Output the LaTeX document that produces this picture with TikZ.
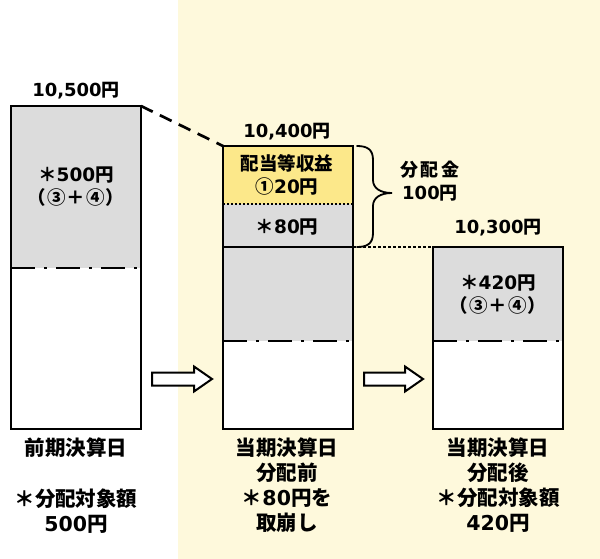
\documentclass[tikz,border=0pt]{standalone}
\usepackage{fontspec}
\setmainfont{Noto Sans CJK JP}
\newfontfamily\jpwider[LetterSpace=12]{Noto Sans CJK JP}
\newfontfamily\dg{DejaVu Sans}
\newfontfamily\jpsp[LetterSpace=5]{Noto Sans CJK JP}
\usetikzlibrary{calc}
\definecolor{panelyellow}{HTML}{FEF9DC}
\definecolor{boxgray}{HTML}{DCDCDC}
\definecolor{boxyellow}{HTML}{FCE88A}
\tikzset{
  frame/.style={draw=black, line width=2.7pt},
  dashdot/.style={line width=2.6pt, dash pattern=on 24pt off 9pt on 3pt off 9pt},
  dotline/.style={line width=2pt, dash pattern=on 2pt off 2pt},
  valtext/.style={font=\bfseries\fontsize{18}{20}\selectfont, inner sep=0pt},
  boxtext/.style={font=\bfseries\fontsize{18.5}{23}\selectfont, align=center, inner sep=0pt},
  bractext/.style={font=\bfseries\fontsize{18}{23}\selectfont, align=center, inner sep=0pt},
  labtext/.style={font=\bfseries\fontsize{20.5}{25}\selectfont, align=center, inner sep=0pt},
  bigarrow/.style={draw=black, line width=2pt, fill=white, line join=miter}
}
\begin{document}
\begin{tikzpicture}[x=1pt,y=-1pt]
\useasboundingbox (0,0) rectangle (600,559);
\fill[white] (0,0) rectangle (600,559);
\fill[panelyellow] (178,0) rectangle (600,559);

% ---- box 1
\coordinate (b1tl) at (11,106);
\coordinate (b1tr) at (141,106);
\coordinate (b1ml) at (11,268);
\coordinate (b1mr) at (141,268);
\coordinate (b1bl) at (11,429);
\coordinate (b1br) at (141,429);
\fill[boxgray] (b1tl) rectangle (b1mr);
\fill[white] (b1ml) rectangle (b1br);
\draw[dashdot] (b1ml) -- (b1mr);
\draw[frame] (b1tl) rectangle (b1br);

% ---- box 2
\coordinate (b2tl) at (223,146);
\coordinate (b2tr) at (353,146);
\coordinate (b2yl) at (223,204);
\coordinate (b2yr) at (353,204);
\coordinate (b2sl) at (223,247);
\coordinate (b2sr) at (353,247);
\coordinate (b2ml) at (223,341);
\coordinate (b2mr) at (353,341);
\coordinate (b2bl) at (223,429);
\coordinate (b2br) at (353,429);
\fill[boxyellow] (b2tl) rectangle (b2yr);
\fill[boxgray] (b2yl) rectangle (b2mr);
\fill[white] (b2ml) rectangle (b2br);
\draw[dotline] (b2yl) -- (b2yr);
\draw[line width=2.7pt] (b2sl) -- (b2sr);
\draw[dashdot] (b2ml) -- (b2mr);
\draw[frame] (b2tl) rectangle (b2br);

% ---- box 3
\coordinate (b3tl) at (433,247);
\coordinate (b3ml) at (433,341);
\coordinate (b3mr) at (563,341);
\coordinate (b3br) at (563,429);
\fill[boxgray] (b3tl) rectangle (b3mr);
\fill[white] (b3ml) rectangle (b3br);
\draw[dashdot] (b3ml) -- (b3mr);
\draw[frame] (b3tl) rectangle (b3br);

% ---- connectors
\draw[line width=2.7pt, dash pattern=on 13pt off 8pt] (b1tr) -- (b2tl);
\draw[line width=2.5pt, dash pattern=on 2.5pt off 2.5pt] (b2sr) -- (b3tl);

% ---- brace
\draw[line width=1.8pt, line cap=round]
  (357,146) .. controls (368,146) and (373,150) .. (373,160)
  -- (373,180) .. controls (373,188) and (380,193) .. (392,193)
  .. controls (380,193) and (373,198) .. (373,206)
  -- (373,233) .. controls (373,243) and (368,247) .. (357,247);

% ---- block arrows
\draw[bigarrow] (152,372.5) -- (194,372.5) -- (194,366.5) -- (212,379) -- (194,391.5) -- (194,385.5) -- (152,385.5) -- cycle;
\draw[bigarrow] (364,372.5) -- (405,372.5) -- (405,366.5) -- (423,379) -- (405,391.5) -- (405,385.5) -- (364,385.5) -- cycle;

% ---- texts
\node[valtext] (v1) at (76,91) {{\dg 10,500}円};
\node[valtext] (v2) at (287,132) {{\dg 10,400}円};
\node[valtext] (v3) at (498,228) {{\dg 10,300}円};

\node[boxtext] (t1) at (76,187) {＊{\dg 500}円\\{\jpsp （③＋④）}};
\node[boxtext] (t2) at (287,175) {配当等収益\\①{\dg 20}円};
\node[boxtext] (t3) at (287,227) {＊{\dg 80}円};
\node[boxtext] (t4) at (498,295) {＊{\dg 420}円\\{\jpsp （③＋④）}};

\node[bractext] (bt) at (430,181) {{\jpwider 分配金}\\{\dg 100}円};

\node[labtext] (l1a) at (76,448) {前期決算日};
\node[labtext] (l1b) at (76,511) {＊分配対象額\\{\dg 500}円};
\node[labtext] (l2) at (287,485.5) {当期決算日\\分配前\\＊{\dg 80}円を\\取崩し};
\node[labtext] (l3) at (498,485.5) {当期決算日\\分配後\\＊分配対象額\\{\dg 420}円};
\end{tikzpicture}
\end{document}
